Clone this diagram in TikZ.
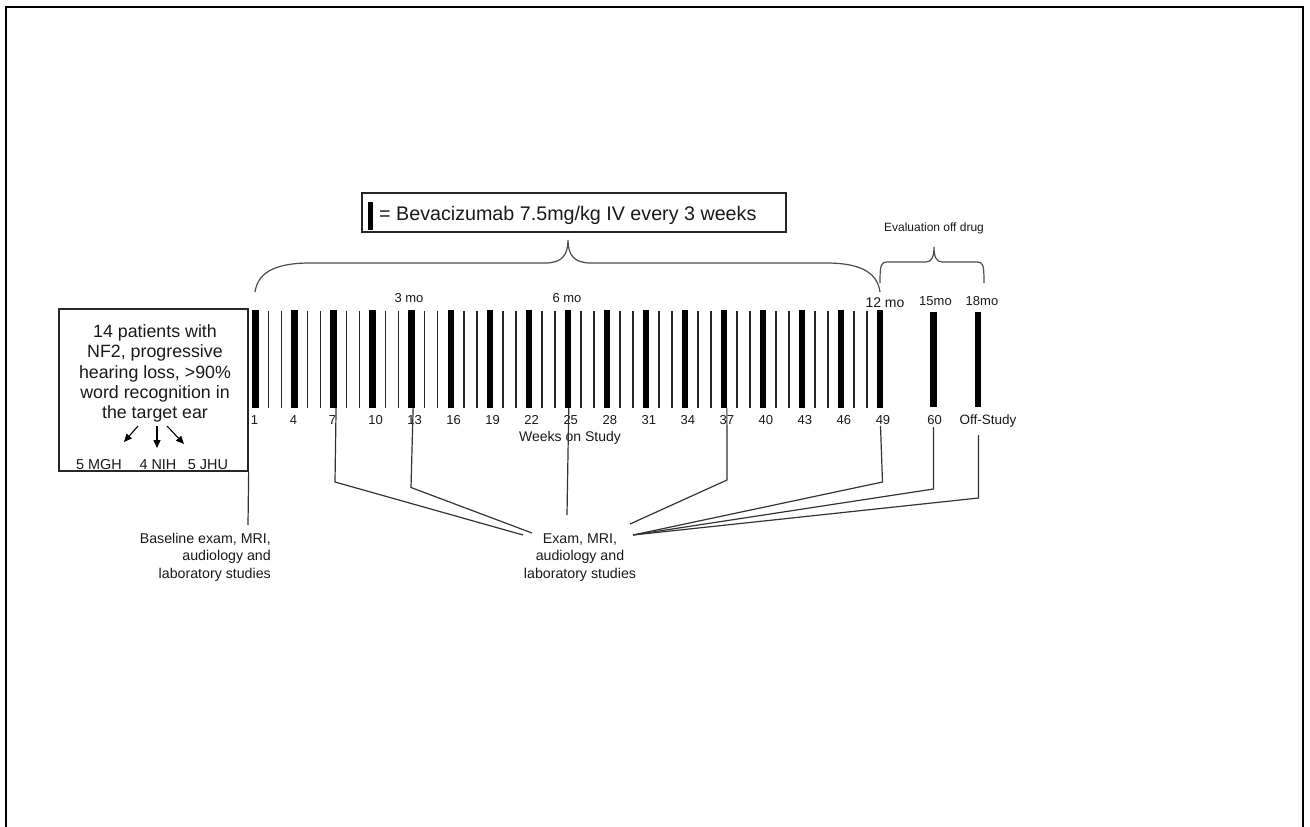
\documentclass[tikz,border=0pt]{standalone}
\usepackage{fontspec}
\setmainfont{Liberation Sans}
\usetikzlibrary{arrows.meta}
\begin{document}
\begin{tikzpicture}[x=1pt,y=-1pt,
  txt/.style={inner sep=0pt, text=black!90},
  thickbar/.style={fill=black, inner sep=0pt, minimum width=6.3pt, minimum height=98pt},
  thinbar/.style={fill=black!85, inner sep=0pt, minimum width=1.7pt, minimum height=97pt},
  conn/.style={draw=black!80, line width=1.2pt},
  brace/.style={draw=black!70, line width=1.2pt},
  numlbl/.style={txt, font=\fontsize{13}{15}\selectfont, anchor=base},
  molbl/.style={txt, font=\fontsize{14}{16}\selectfont, anchor=base},
  smolbl/.style={txt, font=\fontsize{13}{15}\selectfont, anchor=base},
  frame/.style={draw=black!85, line width=1.3pt},
  arr/.style={draw=black, line width=1.1pt, -{Triangle[length=8pt,width=7pt]}}
]
\useasboundingbox (0,0) rectangle (1310,827);
% outer frame
\draw[line width=2pt] (6,827) -- (6,7) -- (1303,7) -- (1303,827);

% legend
\node[frame, minimum width=424pt, minimum height=39pt, inner sep=0pt] (legend) at (574,212.5) {};
\node[fill=black, inner sep=0pt, minimum width=4.5pt, minimum height=28pt] (legbar) at (370.5,215.5) {};
\node[txt, anchor=base west, font=\fontsize{19.7}{22}\selectfont] (legtxt) at (379,220.5) {= Bevacizumab 7.5mg/kg IV every 3 weeks};

% bars
\foreach \w in {1,...,49}{
  \pgfmathsetmacro\xx{255.5+(\w-1)*13.01}
  \pgfmathtruncatemacro\m{mod(\w-1,3)}
  \ifnum\m=0
    \node[thickbar] (b\w) at (\xx,359) {};
    \pgfmathsetmacro\lx{\w<10 ? \xx-1 : \xx+3}
    \node[numlbl] (l\w) at (\lx,424.5) {\w};
  \else
    \node[thinbar] (b\w) at (\xx,359.5) {};
  \fi
}
\node[thickbar, minimum height=95pt] (b60) at (933.5,359) {};
\node[thickbar, minimum height=95pt] (boff) at (978,359) {};
\node[numlbl] (l60) at (934.5,424.5) {60};
\node[numlbl, font=\fontsize{13.5}{15}\selectfont] (loff) at (988,424.5) {Off-Study};
\node[txt, anchor=base, font=\fontsize{14}{16}\selectfont] (weeks) at (570,441) {Weeks on Study};

% month labels
\node[smolbl] (m3) at (409,302.5) {3 mo};
\node[smolbl] (m6) at (567,302.5) {6 mo};
\node[molbl] (m12) at (885,307.5) {12 mo};
\node[smolbl] (m15) at (935.5,305) {15mo};
\node[smolbl] (m18) at (982,305) {18mo};

% braces
\draw[brace] (255,292) .. controls (258,270) and (280,263) .. (310,263)
  -- (545,263) .. controls (562,263) and (568,255) .. (568,240)
  .. controls (568,255) and (574,263) .. (591,263)
  -- (826,263) .. controls (856,263) and (877,270) .. (880,292);
\draw[brace] (880,283) .. controls (880,264) and (881,262) .. (888,262)
  -- (926,262) .. controls (932,262) and (934,256) .. (934,247)
  .. controls (934,256) and (936,262) .. (942,262)
  -- (977,262) .. controls (983,262) and (984,264) .. (984,283);
\node[txt, anchor=base, font=\fontsize{12}{14}\selectfont] (evaltxt) at (934,231.5) {Evaluation off drug};

% left box
\node[frame, minimum width=189pt, minimum height=162pt, inner sep=0pt] (box) at (153.5,390) {};
\node[txt, anchor=north, align=center, font=\fontsize{17.8}{20.3}\selectfont] (pts) at (155,324.5)
  {14 patients with\\NF2, progressive\\hearing loss, >90\%\\word recognition in\\the target ear};
\node[txt, anchor=base, font=\fontsize{14.4}{16}\selectfont] (mgh) at (99,469) {5 MGH};
\node[txt, anchor=base, font=\fontsize{14.4}{16}\selectfont] (nih) at (158,469) {4 NIH};
\node[txt, anchor=base, font=\fontsize{14.4}{16}\selectfont] (jhu) at (208,469) {5 JHU};
\coordinate (a1s) at (138,426); \coordinate (a1e) at (124,442);
\coordinate (a2s) at (157,426); \coordinate (a2e) at (157,448);
\coordinate (a3s) at (167,426); \coordinate (a3e) at (184,444);
\draw[arr] (a1s) -- (a1e);
\draw[arr] (a2s) -- (a2e);
\draw[arr] (a3s) -- (a3e);

% baseline
\coordinate (blend) at (248,525);
\draw[conn] (box.south east) -- (blend);
\node[txt, anchor=north east, align=right, font=\fontsize{14.2}{17.5}\selectfont] (basetxt) at (271,532.6)
  {Baseline exam, MRI,\\audiology and\\laboratory studies};

% exam text
\node[txt, anchor=north, align=center, font=\fontsize{14.2}{17.5}\selectfont] (exam) at (580,533.5)
  {Exam, MRI,\\audiology and\\laboratory studies};

% connectors
\coordinate (c7) at (335,482);   \coordinate (e7) at (523,535);
\coordinate (c13) at (411,487.5); \coordinate (e13) at (532,533);
\coordinate (e25) at (567,515);
\coordinate (c37) at (727,480);  \coordinate (e37) at (630,524);
\coordinate (s49) at (880.5,426); \coordinate (c49) at (882.5,482);
\coordinate (s60) at (933.5,427); \coordinate (c60) at (933.5,489);
\coordinate (soff) at (978.5,435); \coordinate (coff) at (978.5,498);
\coordinate (ex) at (633,535);
\draw[conn] ([xshift=2.5pt]b7.south) -- (c7) -- (e7);
\draw[conn] ([xshift=1.5pt]b13.south) -- (c13) -- (e13);
\draw[conn] ([xshift=1pt]b25.south) -- (e25);
\draw[conn] ([xshift=3pt]b37.south) -- (c37) -- (e37);
\draw[conn] (s49) -- (c49) -- (ex);
\draw[conn] (s60) -- (c60) -- (ex);
\draw[conn] (soff) -- (coff) -- (ex);
\end{tikzpicture}
\end{document}
